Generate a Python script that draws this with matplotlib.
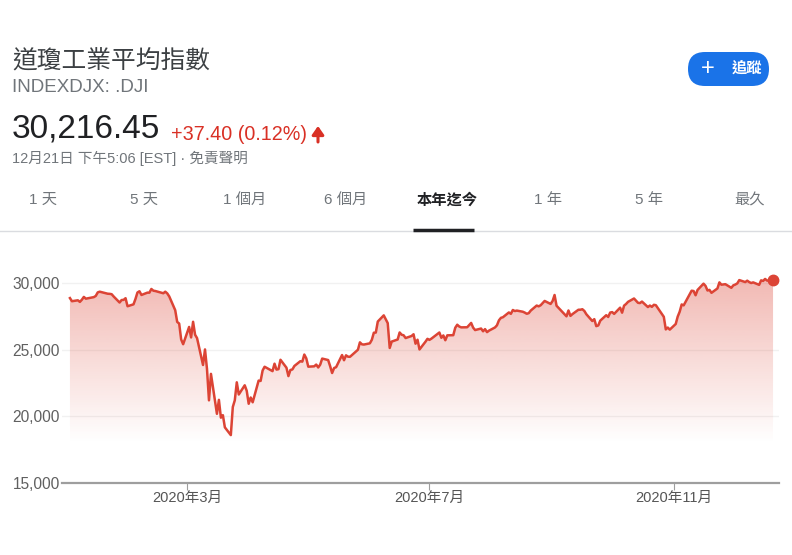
import numpy as np
import pandas as pd
import matplotlib
matplotlib.use('Agg')
import matplotlib.pyplot as plt
import matplotlib.dates as mdates
from matplotlib.patches import FancyBboxPatch
from matplotlib.colors import to_rgb

plt.rcParams['font.family'] = ['Liberation Sans', 'Noto Sans CJK TC']

# DJIA daily closes, 2020 year to date
holidays = ['2020-01-20', '2020-02-17', '2020-04-10', '2020-05-25',
            '2020-07-03', '2020-09-07', '2020-11-26']
jan = [28868, 28634, 28703, 28583, 28745, 28957, 28824, 28907, 28940, 29030, 29297,
       29348, 29196, 29186, 29160, 28990, 28535, 28723, 28734, 28859, 28256]
feb = [28400, 28807, 29290, 29380, 29102, 29276, 29276, 29551, 29423, 29398, 29232,
       29348, 29219, 28992, 27961, 27081, 26957, 25766, 25409]
mar = [26703, 25917, 27091, 26121, 25865, 23851, 25018, 23553, 21200, 23185, 20189,
       21237, 19899, 20087, 19174, 18592, 20705, 21201, 22552, 21637, 22328, 21917]
apr = [20944, 21413, 21053, 22680, 22654, 23434, 23719, 23390, 23950, 23505, 23538,
       24242, 23650, 23019, 23475, 23516, 23776, 24134, 24102, 24634, 24346]
may = [23724, 23750, 23883, 23665, 23876, 24331, 24222, 23765, 23248, 23625, 23685,
       24597, 24207, 24576, 24474, 24465, 24995, 25548, 25401, 25383]
jun = [25475, 25742, 26270, 26282, 27111, 27572, 27272, 26990, 25128, 25606, 25763,
       26290, 26120, 26080, 25871, 26025, 26156, 25446, 25746, 25016, 25596, 25813]
jul = [25735, 25827, 26287, 25891, 26067, 25707, 26075, 26086, 26643, 26870, 26735,
       26672, 26681, 26840, 27005, 26653, 26470, 26585, 26380, 26540, 26314, 26428]
aug = [26665, 26828, 27202, 27387, 27433, 27791, 27687, 27976, 27897, 27931, 27845,
       27779, 27692, 27740, 27931, 28308, 28249, 28332, 28492, 28654, 28430]
sep = [28646, 29100, 28293, 28133, 27501, 27940, 27535, 27666, 27993, 27996, 28032,
       27902, 27657, 27148, 27288, 26764, 26815, 27174, 27584, 27453, 27782]
oct_ = [27817, 27683, 28149, 27773, 28303, 28426, 28587, 28838, 28680, 28515, 28494,
        28607, 28196, 28309, 28211, 28364, 28336, 27685, 27464, 26520, 26660, 26502]
nov = [26925, 27480, 27848, 28390, 28323, 29158, 29421, 29398, 29080, 29480, 29950,
       29784, 29438, 29483, 29263, 29591, 30046, 29873, 29910, 29639]
dec = [29824, 29884, 29970, 30218, 30070, 30174, 30068, 29999, 30046, 29861, 30199,
       30155, 30304, 30179, 30216]

closes = jan + feb + mar + apr + may + jun + jul + aug + sep + oct_ + nov + dec
dates = pd.bdate_range('2020-01-02', '2020-12-21', freq='C', holidays=holidays)

y_ticks = [15000, 20000, 25000, 30000]
x_tick_dates = ['2020-03-01', '2020-07-01', '2020-11-01']
x_tick_labels = ['2020年3月', '2020年7月', '2020年11月']
tabs = ['1 天', '5 天', '1 個月', '6 個月', '本年迄今', '1 年', '5 年', '最久']

red = '#dc4435'
gray = '#70757a'

fig = plt.figure(figsize=(7.92, 5.55), dpi=100)

# page layer in pixel coordinates
bg = fig.add_axes([0, 0, 1, 1])
bg.set_xlim(0, 792)
bg.set_ylim(555, 0)
bg.axis('off')

bg.text(12, 61, '道瓊工業平均指數', fontsize=17.8, color='#3c4043', va='center')
bg.text(12, 88, 'INDEXDJX: .DJI', fontsize=13.5, color=gray, va='center')
bg.text(12, 129, '30,216.45', fontsize=24, color='#202124', va='center')
bg.text(171, 134, '+37.40 (0.12%)', fontsize=14.2, color='#d93025', va='center')
bg.annotate('', xy=(318, 126), xytext=(318, 142),
            arrowprops=dict(arrowstyle='-|>,head_width=0.35,head_length=0.5',
                            color='#d93025', lw=2.2, shrinkA=0, shrinkB=0))
bg.text(12, 158, '12月21日 下午5:06 [EST] · 免責聲明', fontsize=10.5, color=gray,
        va='center')

btn = FancyBboxPatch((688, 52), 81, 34, boxstyle='round,pad=0,rounding_size=17',
                     facecolor='#1a73e8', edgecolor='none')
bg.add_patch(btn)
bg.text(708, 69, '+', fontsize=17, color='white', ha='center', va='center')
bg.text(747, 69, '追蹤', fontsize=11, color='white', ha='center', va='center',
        fontweight='bold')

for i, t in enumerate(tabs):
    sel = t == '本年迄今'
    bg.text(43 + i * 101, 200, t, fontsize=11, ha='center', va='center',
            color='#202124' if sel else gray, fontweight='bold' if sel else 'normal')
bg.plot([0, 792], [231, 231], color='#dadce0', lw=1)
bg.plot([413, 474], [229.5, 229.5], color='#202124', lw=2.5, solid_capstyle='butt')

# chart
ax = fig.add_axes([62 / 792, 1 - 483 / 555, 717 / 792, 220 / 555])
ax.patch.set_alpha(0)
x = mdates.date2num(dates)
y0, y1 = 15000, 31500
x0 = mdates.date2num(pd.Timestamp('2019-12-29'))
x1 = mdates.date2num(pd.Timestamp('2020-12-24'))

rgb = to_rgb(red)
grad = np.zeros((256, 1, 4))
grad[:, 0, :3] = rgb
vals = np.linspace(y1, y0, 256)
grad[:, 0, 3] = np.clip((vals - 18000) / (30500 - 18000) * 0.38, 0, 1)
im = ax.imshow(grad, extent=[x0, x1, y0, y1], aspect='auto', origin='upper', zorder=1)
poly = ax.fill_between(x, closes, y0, facecolor='none', edgecolor='none')
im.set_clip_path(poly.get_paths()[0], transform=ax.transData)

ax.plot(x, closes, color=red, lw=1.8, zorder=3)
ax.plot(x[-1], closes[-1], 'o', color=red, ms=7.5, zorder=4)

ax.set_xlim(x0, x1)
ax.set_ylim(y0, y1)
ax.set_yticks(y_ticks)
ax.set_yticklabels([f'{v:,}' for v in y_ticks])
ax.set_xticks(mdates.date2num(pd.to_datetime(x_tick_dates)))
ax.set_xticklabels(x_tick_labels)
ax.grid(axis='y', color='#f1f1f1', lw=1)
ax.set_axisbelow(True)
for s in ['top', 'right', 'left']:
    ax.spines[s].set_visible(False)
ax.spines['bottom'].set_color('#9e9e9e')
ax.spines['bottom'].set_linewidth(1.6)
ax.spines['bottom'].set_zorder(5)
ax.tick_params(axis='y', length=0, pad=1.5, labelsize=11.2, labelcolor='#606060')
ax.tick_params(axis='x', length=5, width=0.8, color='#9e9e9e', pad=1,
               labelsize=10.5, labelcolor='#555555')

fig.savefig('out.png', dpi=100)
